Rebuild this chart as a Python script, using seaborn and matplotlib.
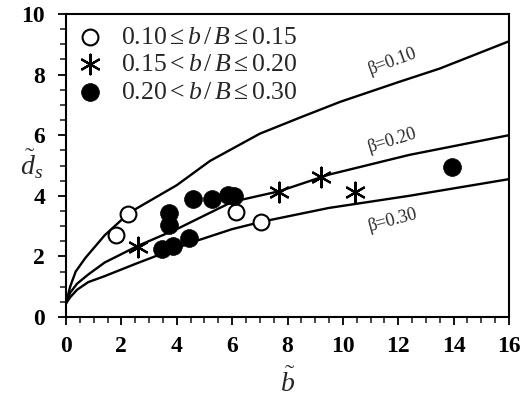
import numpy as np
import pandas as pd
import matplotlib
matplotlib.use("Agg")
import matplotlib.pyplot as plt
import seaborn as sns
from matplotlib.ticker import MultipleLocator

# ---- data ----
open_b = [1.8, 2.25, 6.15, 7.05]
open_d = [2.7, 3.4, 3.45, 3.15]

star_b = [2.6, 7.7, 9.2, 10.45]
star_d = [2.3, 4.13, 4.62, 4.13]

fill_b = [3.72, 3.72, 4.59, 5.28, 5.85, 6.05, 3.45, 3.88, 4.45, 13.95]
fill_d = [3.43, 3.05, 3.9, 3.9, 4.02, 3.98, 2.25, 2.35, 2.6, 4.95]

b010 = [0, 0.15, 0.35, 0.7, 1.4, 2.3, 4.0, 5.2, 7.0, 8.5, 9.9, 12.0, 13.5, 16.0]
d010 = [0.45, 1.0, 1.5, 1.95, 2.7, 3.45, 4.35, 5.15, 6.05, 6.6, 7.1, 7.75, 8.2, 9.1]

b020 = [0, 0.15, 0.4, 0.8, 1.4, 2.6, 4.0, 6.0, 7.7, 9.5, 12.4, 16.0]
d020 = [0.45, 0.8, 1.1, 1.4, 1.8, 2.35, 2.9, 3.8, 4.15, 4.7, 5.35, 6.0]

b030 = [0, 0.15, 0.4, 0.8, 1.4, 2.5, 3.5, 4.5, 6.0, 7.1, 9.5, 12.4, 16.0]
d030 = [0.45, 0.65, 0.9, 1.15, 1.35, 1.75, 2.1, 2.45, 2.9, 3.15, 3.6, 4.0, 4.55]

legend_labels = [r"$0.10\leq b\,/\,B\leq 0.15$",
                 r"$0.15< b\,/\,B\leq 0.20$",
                 r"$0.20< b\,/\,B\leq 0.30$"]
curve_labels = ["β=0.10", "β=0.20", "β=0.30"]
x_ticks = [0, 2, 4, 6, 8, 10, 12, 14, 16]
y_ticks = [0, 2, 4, 6, 8, 10]

# ---- style ----
sns.set_theme(style="white")
plt.rcParams["font.family"] = ["Liberation Serif", "DejaVu Serif"]
plt.rcParams["mathtext.fontset"] = "custom"
plt.rcParams["mathtext.rm"] = "Liberation Serif"
plt.rcParams["mathtext.it"] = "Liberation Serif:italic"
plt.rcParams["mathtext.bf"] = "Liberation Serif:bold"

fig = plt.figure(figsize=(5.22, 4.0), dpi=100)
ax = fig.add_axes([66 / 522, 1 - 317 / 400, (509 - 66) / 522, (317 - 14) / 400])

# curves
for bb, dd in [(b010, d010), (b020, d020), (b030, d030)]:
    cdf = pd.DataFrame({"b": bb, "d": dd})
    sns.lineplot(data=cdf, x="b", y="d", ax=ax, color="black", lw=1.7,
                 estimator=None, sort=False, legend=False)

# points
df_open = pd.DataFrame({"b": open_b, "d": open_d})
df_star = pd.DataFrame({"b": star_b, "d": star_d})
df_fill = pd.DataFrame({"b": fill_b, "d": fill_d})

sns.scatterplot(data=df_open, x="b", y="d", ax=ax, marker="o", s=130,
                facecolor="white", edgecolor="black", linewidth=1.5,
                label=legend_labels[0], zorder=3)
sns.scatterplot(data=df_star, x="b", y="d", ax=ax, marker=(6, 2, 0), s=200,
                color="black", edgecolor="black", linewidth=1.6,
                label=legend_labels[1], zorder=3)
sns.scatterplot(data=df_fill, x="b", y="d", ax=ax, marker="o", s=165,
                color="black", edgecolor="black", linewidth=0.5,
                label=legend_labels[2], zorder=3)

# curve labels
ax.text(11.8, 8.45, curve_labels[0], fontsize=13, rotation=20, ha="center", va="center")
ax.text(11.8, 5.84, curve_labels[1], fontsize=13, rotation=17, ha="center", va="center")
ax.text(11.8, 3.2, curve_labels[2], fontsize=13, rotation=15, ha="center", va="center")

ax.set_xlim(0, 16)
ax.set_ylim(0, 10)
ax.set_xticks(x_ticks)
ax.set_yticks(y_ticks)
ax.xaxis.set_minor_locator(MultipleLocator(0.5))
ax.yaxis.set_minor_locator(MultipleLocator(0.5))
ax.tick_params(axis="both", which="major", direction="out", length=6, width=1.3,
               bottom=True, left=True, top=False, right=False, labelsize=17,
               colors="black")
ax.tick_params(axis="x", which="major", pad=8)
ax.tick_params(axis="y", which="major", pad=9)
ax.tick_params(axis="both", which="minor", direction="out", length=4, width=1.2,
               bottom=True, left=True, top=False, right=False)
for lab in ax.get_xticklabels() + ax.get_yticklabels():
    lab.set_fontweight("bold")

for sp in ax.spines.values():
    sp.set_color("black")
    sp.set_linewidth(1.5)

ax.set_xlabel(r"$\tilde{b}$", fontsize=20, labelpad=8)
ax.set_ylabel(r"$\tilde{d}_s$", fontsize=20, rotation=0, va="center", ha="center")
ax.yaxis.set_label_coords(-0.078, 0.505)

leg = ax.legend(loc="upper left", frameon=False, fontsize=18.5,
                handletextpad=0.7, borderaxespad=0.15, labelspacing=0.18,
                handlelength=1.0, borderpad=0.3)

fig.savefig("out.png", dpi=100)
